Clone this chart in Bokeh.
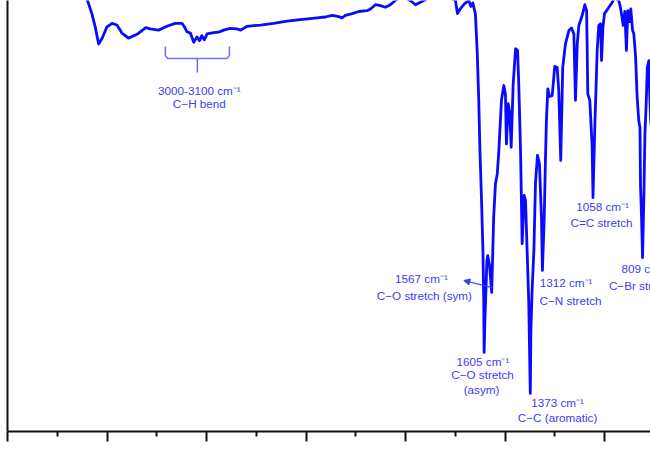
from bokeh.plotting import figure
from bokeh.models import Range1d, FixedTicker, Arrow, NormalHead
from bokeh.embed import file_html
from bokeh.resources import INLINE
from bokeh.core.properties import value

# IR spectrum (wavenumber in cm^-1, transmittance in arbitrary %)
wavenumber = [3634, 3598, 3576, 3559, 3542, 3525, 3501, 3475, 3450, 3425,
              3392, 3349, 3305, 3283, 3241, 3199, 3157, 3123, 3109, 3098,
              3081, 3064, 3048, 3035, 3024, 3011, 2997, 2964, 2939, 2914,
              2880, 2847, 2828, 2796, 2729, 2663, 2595, 2528, 2444, 2403,
              2369, 2336, 2319, 2302, 2268, 2235, 2193, 2176, 2151, 2126,
              2101, 2076, 2051, 2026, 2001, 1976, 1950, 1925, 1908, 1875,
              1825, 1774, 1749, 1739, 1724, 1704, 1682, 1672, 1662, 1649,
              1640, 1632, 1626, 1618, 1611, 1607, 1605, 1601, 1596, 1591,
              1587, 1578, 1567, 1557, 1548, 1539, 1531, 1518, 1506, 1498,
              1493, 1484, 1476, 1469, 1459, 1447, 1437, 1431, 1422, 1414,
              1404, 1397, 1389, 1381, 1373, 1370, 1364, 1355, 1347, 1337,
              1327, 1317, 1312, 1303, 1297, 1292, 1285, 1277, 1263, 1250,
              1238, 1230, 1220, 1210, 1196, 1179, 1166, 1154, 1146, 1137,
              1129, 1112, 1099, 1090, 1084, 1074, 1062, 1058, 1048, 1043,
              1037, 1029, 1020, 1015, 1008, 1000, 978, 961, 950, 928,
              919, 906, 898, 890, 883, 873, 868, 859, 853, 844,
              836, 828, 822, 819, 814, 809, 802, 797, 790, 785,
              777, 772, 768, 760]
transmittance = [106.6, 101.9, 98.8, 95.6, 91.6, 92.9, 95.6, 96.5, 96.1, 94.2,
                 93.0, 93.9, 95.5, 95.2, 94.9, 95.8, 96.5, 96.5, 95.5, 94.5,
                 94.2, 92.0, 93.3, 92.4, 93.6, 92.6, 94.0, 94.3, 94.4, 94.9,
                 95.3, 95.2, 94.9, 95.8, 96.1, 96.5, 97.0, 97.4, 97.8, 98.0,
                 98.4, 98.1, 97.8, 98.4, 98.8, 99.3, 99.5, 99.9, 100.9, 100.7,
                 100.3, 100.9, 101.9, 102.8, 102.6, 101.9, 100.9, 101.5, 101.9, 102.8,
                 103.1, 102.6, 101.9, 98.8, 100.0, 101.1, 101.9, 100.5, 101.3, 98.8,
                 90.1, 78.3, 66.4, 54.6, 42.8, 31.0, 18.7, 26.3, 33.3, 40.4,
                 41.6, 39.3, 32.9, 50.7, 58.6, 60.9, 66.4, 78.3, 81.8, 79.8,
                 68.0, 77.5, 75.2, 67.2, 82.2, 90.5, 90.1, 82.2, 66.4, 44.4,
                 55.8, 54.6, 42.8, 31.0, 9.0, 23.9, 33.3, 42.8, 58.6, 65.3,
                 63.3, 50.7, 38.1, 50.7, 64.1, 73.5, 81.0, 79.2, 79.4, 86.3,
                 86.1, 80.6, 64.1, 86.1, 91.7, 94.8, 95.4, 94.0, 78.3, 91.7,
                 96.0, 98.4, 100.9, 99.5, 79.8, 78.3, 67.2, 55.3, 73.5, 80.6,
                 90.1, 96.0, 96.4, 87.7, 95.6, 98.8, 100.3, 101.5, 102.6, 101.9,
                 100.0, 96.0, 99.3, 90.1, 99.5, 96.9, 99.9, 94.8, 94.1, 88.7,
                 79.0, 73.5, 71.9, 57.8, 50.7, 41.1, 56.2, 70.4, 78.3, 86.1,
                 87.7, 78.3, 73.5, 70.0]

major_ticks = [4000, 3500, 3000, 2500, 2000, 1500, 1000]
minor_ticks = [3750, 3250, 2750, 2250, 1750, 1250, 750]

# annotation texts
label_text = ["3000-3100 cm\u207b\u00b9", "C\u2212H bend",
              "1567 cm\u207b\u00b9", "C\u2212O stretch (sym)",
              "1605 cm\u207b\u00b9", "C\u2212O stretch", "(asym)",
              "1373 cm\u207b\u00b9", "C\u2212C (aromatic)",
              "1312 cm\u207b\u00b9", "C\u2212N stretch",
              "1058 cm\u207b\u00b9", "C=C stretch",
              "809 cm\u207b\u00b9", "C\u2212Br stretch"]
label_x = [3036, 3036, 1920, 1905, 1611, 1613, 1618, 1236, 1236,
           1193, 1171, 1010, 1015, 799, 814]
label_y = [80.6, 77.5, 36.2, 32.2, 16.6, 13.5, 9.9, 6.9, 3.4,
           35.2, 31.0, 53.2, 49.5, 38.5, 34.5]

bracket_x = [3207, 3207, 3195, 2897, 2885, 2885]
bracket_y = [91.0, 88.9, 88.2, 88.2, 88.9, 91.0]
stem_x = [3046, 3046]
stem_y = [88.2, 84.9]

arrow_start = (1565, 34.0)
arrow_end = (1707, 35.7)

LINE = "#0a0aff"
TEXT = "#3c3cf4"
BRACKET = "#7070f0"

p = figure(width=650, height=450, output_backend="svg", toolbar_location=None,
           x_range=Range1d(4000, 769), y_range=Range1d(0, 101.9),
           min_border_left=7, min_border_right=0, min_border_top=0,
           min_border_bottom=19)
p.outline_line_color = None
p.xgrid.visible = False
p.ygrid.visible = False
p.background_fill_color = "white"
p.border_fill_color = "white"

p.xaxis.ticker = FixedTicker(ticks=major_ticks, minor_ticks=minor_ticks)
p.xaxis.axis_line_width = 2
p.xaxis.axis_line_color = "#111111"
p.xaxis.major_tick_line_width = 2
p.xaxis.major_tick_line_color = "#111111"
p.xaxis.minor_tick_line_width = 2
p.xaxis.minor_tick_line_color = "#111111"
p.xaxis.major_tick_in = 0
p.xaxis.major_tick_out = 10
p.xaxis.minor_tick_in = 0
p.xaxis.minor_tick_out = 5
p.xaxis.major_label_text_color = None
p.xaxis.major_label_standoff = 0

p.yaxis.ticker = FixedTicker(ticks=[], minor_ticks=[])
p.yaxis.axis_line_width = 2
p.yaxis.axis_line_color = "#111111"
p.yaxis.major_tick_in = 0
p.yaxis.major_tick_out = 0
p.yaxis.major_label_standoff = 0
p.yaxis.major_label_text_color = None

p.line(wavenumber, transmittance, line_color=LINE, line_width=2.8, line_join="round")

p.line(bracket_x, bracket_y, line_color=BRACKET, line_width=1.5)
p.line(stem_x, stem_y, line_color=BRACKET, line_width=1.5)

p.add_layout(Arrow(end=NormalHead(size=6, fill_color=TEXT, line_color=TEXT),
                   x_start=arrow_start[0], y_start=arrow_start[1],
                   x_end=arrow_end[0], y_end=arrow_end[1],
                   line_color=TEXT, line_width=1.2))

p.text(x=label_x, y=label_y, text=label_text, text_align="center",
       text_baseline="middle", text_color=TEXT,
       text_font=value("Liberation Sans"), text_font_size="11.7px")

open("out.html", "w").write(file_html(p, INLINE))
